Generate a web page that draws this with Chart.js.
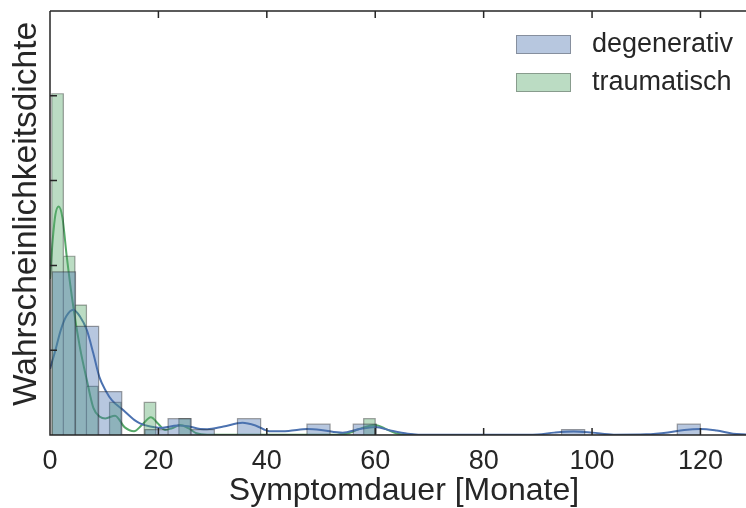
<!DOCTYPE html>
<html>
<head>
<meta charset="utf-8">
<script src="https://cdn.jsdelivr.net/npm/chart.js@4.4.1/dist/chart.umd.min.js"></script>
<style>
  html, body { margin: 0; padding: 0; background: #fff; }
  canvas { display: block; }
</style>
</head>
<body>
<canvas id="chart" width="746" height="508"></canvas>
<script>
// histogram bins (Monate) and densities
const seriesNames = ['degenerativ', 'traumatisch'];
const yTitle = 'Wahrscheinlichkeitsdichte';
const xTitle = 'Symptomdauer [Monate]';

const degBinStart = 0.43;
const degBinWidth = 4.27;
const degDensity = [0.0962, 0.0641, 0.0256, 0, 0.0032, 0.0096, 0.0032, 0, 0.0096, 0, 0, 0.0064, 0, 0.0064,
    0, 0, 0, 0, 0, 0, 0, 0, 0.0032, 0, 0, 0, 0, 0.0064];

const traBinStart = 0.33;
const traBinWidth = 2.131;
const traDensity = [0.2012, 0.1054, 0.0766, 0.0287, 0, 0.0192, 0, 0, 0.0192, 0, 0, 0.0096,
    0, 0, 0, 0, 0, 0, 0, 0, 0, 0, 0, 0, 0, 0, 0, 0.0096];

// KDE curves
const degKdeX = [0, 1, 2, 3, 4.3, 5.5, 6.8, 8, 9.1, 10.3, 11.4, 13.5, 15.6, 16.6, 18.5, 20.5, 23.5, 25.5, 27.7, 29,
    32, 35.5, 38, 40.5, 44, 47.5, 50, 54, 57, 60, 63, 66, 70, 85, 90, 93, 96.6, 100, 104, 110, 114, 117, 120, 123, 126, 128.4];
const degKdeY = [0.039, 0.050, 0.062, 0.070, 0.0739, 0.070, 0.0618, 0.048, 0.0343, 0.026, 0.0206, 0.0147, 0.0088, 0.0069, 0.0050, 0.0042, 0.0056, 0.0052, 0.0035, 0.0034,
    0.0050, 0.0072, 0.0055, 0.0022, 0.0024, 0.0035, 0.0030, 0.0014, 0.0034, 0.0047, 0.0025, 0.0008, 0.0001, 0.0001, 0.0003, 0.0014, 0.0021, 0.0014, 0.0002, 0.0004, 0.0015, 0.0030, 0.0036, 0.0026, 0.0008, 0.0003];

const traKdeX = [0, 0.5, 1.0, 1.6, 2.3, 3.1, 4.3, 5.5, 6.8, 8.0, 9.2, 10.2, 12.0, 13.8, 15.5, 17, 18.6, 20, 21.2, 22.5, 24, 25.5, 27, 29,
    52, 55, 57, 60, 62, 64, 67];
const traKdeY = [0.092, 0.115, 0.130, 0.1347, 0.128, 0.105, 0.0755, 0.052, 0.0323, 0.0160, 0.0108, 0.0098, 0.0114, 0.0045, 0.0022, 0.0060, 0.0104, 0.0065, 0.0030, 0.0040, 0.0059, 0.0040, 0.0010, 0.0001,
    0.0001, 0.0010, 0.0035, 0.0059, 0.0035, 0.0008, 0.0001];

const xTickStep = 20;
const yTickStep = 0.05;

const blue = '#4C72B0';
const green = '#55A868';
const textColor = '#262626';
const fontFamily = '"Liberation Sans", Arial, sans-serif';

function histOutline(start, width, heights) {
    const pts = [];
    heights.forEach((h, i) => {
        if (!h) return;
        const x0 = start + i * width;
        const x1 = x0 + width;
        pts.push({x: x0, y: 0}, {x: x0, y: h}, {x: x1, y: h}, {x: x1, y: 0});
    });
    return pts;
}

function zipXY(xs, ys) {
    return xs.map((x, i) => ({x: x, y: ys[i]}));
}

const frame = {
    id: 'frame',
    afterDatasetsDraw(chart) {
        const {ctx, chartArea: a, scales: {x, y}} = chart;
        ctx.save();
        ctx.strokeStyle = textColor;
        ctx.lineWidth = 1.5;
        ctx.beginPath();
        ctx.moveTo(a.left, a.top);
        ctx.lineTo(a.right + 2, a.top);
        ctx.moveTo(a.left, a.top);
        ctx.lineTo(a.left, a.bottom);
        ctx.lineTo(a.right + 2, a.bottom);
        x.ticks.forEach(t => {
            const px = x.getPixelForValue(t.value);
            ctx.moveTo(px, a.bottom);
            ctx.lineTo(px, a.bottom - 7);
            ctx.moveTo(px, a.top);
            ctx.lineTo(px, a.top + 7);
        });
        y.ticks.forEach(t => {
            if (t.value <= 0 || t.value >= y.max) return;
            const py = y.getPixelForValue(t.value);
            ctx.moveTo(a.left, py);
            ctx.lineTo(a.left + 7, py);
        });
        ctx.stroke();

        ctx.fillStyle = textColor;
        ctx.textAlign = 'center';
        ctx.textBaseline = 'middle';

        // axis titles; the original axes run past the right edge, so the
        // x title sits a little right of the visible middle
        ctx.font = '32px ' + fontFamily;
        ctx.fillText(xTitle, (a.left + a.right) / 2 + 6, a.bottom + 56);

        ctx.save();
        ctx.translate(a.left - 23, (a.top + a.bottom) / 2 - 9);
        ctx.rotate(-Math.PI / 2);
        ctx.font = '33.5px ' + fontFamily;
        ctx.fillText(yTitle, 0, 0);
        ctx.restore();

        // legend
        const fills = ['rgba(76,114,176,0.4)', 'rgba(85,168,104,0.4)'];
        ctx.font = '27px ' + fontFamily;
        ctx.textAlign = 'left';
        seriesNames.forEach((name, i) => {
            const bx = a.right - 230;
            const by = a.top + 24 + i * 38;
            ctx.fillStyle = fills[i];
            ctx.fillRect(bx, by, 55, 19);
            ctx.strokeStyle = 'rgba(60,60,60,0.4)';
            ctx.lineWidth = 1;
            ctx.strokeRect(bx + 0.5, by + 0.5, 54, 18);
            ctx.fillStyle = textColor;
            ctx.fillText(name, bx + 76, by + 10);
        });
        ctx.restore();
    }
};

new Chart(document.getElementById('chart'), {
    type: 'line',
    data: {
        datasets: [
            {
                label: seriesNames[0],
                data: histOutline(degBinStart, degBinWidth, degDensity),
                borderColor: 'rgba(30,30,30,0.4)',
                borderWidth: 1.2,
                backgroundColor: 'rgba(76,114,176,0.4)',
                fill: 'origin',
                tension: 0,
                pointRadius: 0
            },
            {
                label: seriesNames[1],
                data: histOutline(traBinStart, traBinWidth, traDensity),
                borderColor: 'rgba(30,30,30,0.4)',
                borderWidth: 1.2,
                backgroundColor: 'rgba(85,168,104,0.4)',
                fill: 'origin',
                tension: 0,
                pointRadius: 0
            },
            {
                label: seriesNames[0] + ' KDE',
                data: zipXY(degKdeX, degKdeY),
                borderColor: blue,
                borderWidth: 2,
                fill: false,
                cubicInterpolationMode: 'monotone',
                pointRadius: 0
            },
            {
                label: seriesNames[1] + ' KDE',
                data: zipXY(traKdeX, traKdeY),
                borderColor: green,
                borderWidth: 2,
                fill: false,
                cubicInterpolationMode: 'monotone',
                pointRadius: 0
            }
        ]
    },
    options: {
        responsive: false,
        animation: false,
        layout: {padding: {top: 11, right: 0, left: 0, bottom: 0}},
        plugins: {
            legend: {display: false},
            tooltip: {enabled: false}
        },
        scales: {
            x: {
                type: 'linear',
                min: 0,
                max: 128.4,
                grid: {display: false, drawTicks: false},
                border: {display: false},
                ticks: {
                    stepSize: xTickStep,
                    includeBounds: false,
                    padding: 10,
                    color: textColor,
                    font: {family: fontFamily, size: 27}
                },
                title: {display: false},
                afterFit(s) { s.height = 73; }
            },
            y: {
                min: 0,
                max: 0.25,
                grid: {display: false, drawTicks: false},
                border: {display: false},
                ticks: {stepSize: yTickStep, display: false},
                title: {display: false},
                afterFit(s) { s.width = 50; }
            }
        }
    },
    plugins: [frame]
});
</script>
</body>
</html>
